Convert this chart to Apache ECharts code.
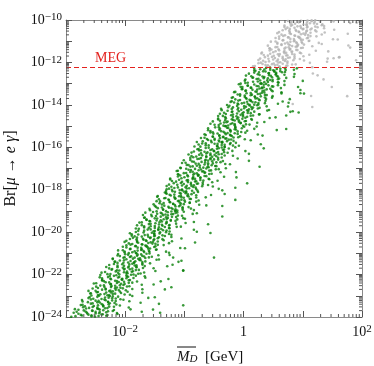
<!DOCTYPE html>
<html>
<head>
<meta charset="utf-8">
<script src="https://cdn.jsdelivr.net/npm/echarts@6/dist/echarts.min.js"></script>
</head>
<body style="margin:0">
<div id="chart" style="width:374px;height:366px"></div>
<script>
// points, stored as [log10(M_D / GeV), log10(Br)]
var greenPts = [
[-2.91,-23.99],[-2.57,-23.97],[-2.45,-23.95],[-2.73,-23.93],[-2.30,-23.91],[-2.62,-23.89],[-2.38,-23.87],[-2.79,-23.85],[-2.50,-23.83],[-2.14,-23.81],[-2.65,-23.79],[-2.43,-23.77],[-2.82,-23.75],[-2.29,-23.73],[-2.55,-23.71],[-2.70,-23.69],[-2.19,-23.67],[-2.43,-23.65],[-2.85,-23.63],[-2.47,-23.61],[-2.34,-23.59],[-2.61,-23.57],[-1.94,-23.55],[-2.55,-23.53],[-2.27,-23.51],[-2.68,-23.49],[-2.37,-23.47],[-2.46,-23.45],[-2.72,-23.43],[-2.15,-23.41],[-2.40,-23.39],[-2.58,-23.37],[-2.26,-23.35],[-1.74,-23.33],[-2.47,-23.31],[-2.29,-23.29],[-2.72,-23.27],[-2.16,-23.25],[-2.50,-23.23],[-2.33,-23.21],[-2.03,-23.19],[-2.58,-23.17],[-2.40,-23.15],[-2.16,-23.13],[-2.62,-23.11],[-2.28,-23.09],[-1.50,-23.07],[-2.47,-23.05],[-2.21,-23.03],[-1.88,-23.01],
[-2.57,-22.99],[-2.27,-22.97],[-1.92,-22.95],[-2.42,-22.93],[-2.21,-22.91],[-2.59,-22.89],[-2.07,-22.87],[-2.32,-22.85],[-2.48,-22.83],[-1.96,-22.81],[-2.21,-22.79],[-2.62,-22.77],[-2.25,-22.75],[-2.11,-22.73],[-2.39,-22.71],[-1.71,-22.69],[-2.33,-22.67],[-2.04,-22.65],[-2.46,-22.63],[-2.14,-22.61],[-2.24,-22.59],[-2.49,-22.57],[-1.93,-22.55],[-2.17,-22.53],[-2.36,-22.51],[-2.03,-22.49],[-1.52,-22.47],[-2.24,-22.45],[-2.07,-22.43],[-2.49,-22.41],[-1.94,-22.39],[-2.27,-22.37],[-2.11,-22.35],[-1.80,-22.33],[-2.36,-22.31],[-2.17,-22.29],[-1.94,-22.27],[-2.39,-22.25],[-2.06,-22.23],[-1.27,-22.21],[-2.25,-22.19],[-1.98,-22.17],[-1.66,-22.15],[-2.43,-22.13],[-2.10,-22.11],[-1.97,-22.09],[-2.26,-22.07],[-1.82,-22.05],[-2.15,-22.03],[-1.90,-22.01],
[-2.10,-21.99],[-2.25,-21.97],[-1.74,-21.95],[-1.98,-21.93],[-2.40,-21.91],[-2.02,-21.89],[-1.89,-21.87],[-2.16,-21.85],[-1.49,-21.83],[-2.10,-21.81],[-1.82,-21.79],[-2.23,-21.77],[-1.92,-21.75],[-2.01,-21.73],[-2.27,-21.71],[-1.70,-21.69],[-1.95,-21.67],[-2.13,-21.65],[-1.81,-21.63],[-1.29,-21.61],[-2.02,-21.59],[-1.84,-21.57],[-2.27,-21.55],[-1.71,-21.53],[-2.05,-21.51],[-1.88,-21.49],[-1.58,-21.47],[-2.13,-21.45],[-1.95,-21.43],[-1.71,-21.41],[-2.17,-21.39],[-1.83,-21.37],[-1.05,-21.35],[-2.02,-21.33],[-1.76,-21.31],[-1.43,-21.29],[-2.21,-21.27],[-1.87,-21.25],[-1.75,-21.23],[-2.03,-21.21],[-1.60,-21.19],[-1.92,-21.17],[-1.68,-21.15],[-2.09,-21.13],[-1.80,-21.11],[-1.44,-21.09],[-1.95,-21.07],[-1.73,-21.05],[-2.12,-21.03],[-1.59,-21.01],
[-1.94,-20.99],[-1.26,-20.97],[-1.88,-20.95],[-1.59,-20.93],[-2.01,-20.91],[-1.69,-20.89],[-1.79,-20.87],[-2.04,-20.85],[-1.48,-20.83],[-1.72,-20.81],[-1.91,-20.79],[-1.58,-20.77],[-1.07,-20.75],[-1.79,-20.73],[-1.62,-20.71],[-2.04,-20.69],[-1.49,-20.67],[-1.82,-20.65],[-1.66,-20.63],[-1.35,-20.61],[-1.91,-20.59],[-1.72,-20.57],[-1.49,-20.55],[-1.94,-20.53],[-1.61,-20.51],[-0.82,-20.49],[-1.80,-20.47],[-1.53,-20.45],[-1.21,-20.43],[-1.98,-20.41],[-1.65,-20.39],[-1.52,-20.37],[-1.81,-20.35],[-1.37,-20.33],[-1.70,-20.31],[-1.45,-20.29],[-1.87,-20.27],[-1.57,-20.25],[-1.22,-20.23],[-1.72,-20.21],[-1.51,-20.19],[-1.89,-20.17],[-1.37,-20.15],[-1.62,-20.13],[-1.78,-20.11],[-1.26,-20.09],[-1.51,-20.07],[-1.92,-20.05],[-1.55,-20.03],[-1.41,-20.01],
[-1.82,-19.99],[-1.25,-19.97],[-1.50,-19.95],[-1.68,-19.93],[-1.36,-19.91],[-0.84,-19.89],[-1.57,-19.87],[-1.39,-19.85],[-1.82,-19.83],[-1.26,-19.81],[-1.60,-19.79],[-1.43,-19.77],[-1.13,-19.75],[-1.68,-19.73],[-1.50,-19.71],[-1.26,-19.69],[-1.72,-19.67],[-1.38,-19.65],[-0.60,-19.63],[-1.57,-19.61],[-1.31,-19.59],[-0.98,-19.57],[-1.76,-19.55],[-1.42,-19.53],[-1.30,-19.51],[-1.58,-19.49],[-1.15,-19.47],[-1.47,-19.45],[-1.23,-19.43],[-1.64,-19.41],[-1.35,-19.39],[-0.99,-19.37],[-1.50,-19.35],[-1.28,-19.33],[-1.67,-19.31],[-1.14,-19.29],[-1.40,-19.27],[-1.55,-19.25],[-1.04,-19.23],[-1.28,-19.21],[-1.70,-19.19],[-1.32,-19.17],[-1.19,-19.15],[-1.46,-19.13],[-0.79,-19.11],[-1.40,-19.09],[-1.12,-19.07],[-1.53,-19.05],[-1.22,-19.03],[-1.31,-19.01],
[-1.16,-18.99],[-1.58,-18.97],[-1.03,-18.95],[-1.36,-18.93],[-1.20,-18.91],[-0.89,-18.89],[-1.45,-18.87],[-1.26,-18.85],[-1.03,-18.83],[-1.48,-18.81],[-1.15,-18.79],[-0.36,-18.77],[-1.34,-18.75],[-1.07,-18.73],[-0.75,-18.71],[-1.52,-18.69],[-1.19,-18.67],[-1.06,-18.65],[-1.35,-18.63],[-0.91,-18.61],[-1.24,-18.59],[-0.99,-18.57],[-1.41,-18.55],[-1.11,-18.53],[-0.76,-18.51],[-1.26,-18.49],[-1.05,-18.47],[-1.43,-18.45],[-0.91,-18.43],[-1.16,-18.41],[-1.32,-18.39],[-0.80,-18.37],[-1.05,-18.35],[-1.46,-18.33],[-1.09,-18.31],[-0.95,-18.29],[-1.23,-18.27],[-0.55,-18.25],[-1.17,-18.23],[-0.88,-18.21],[-1.30,-18.19],[-0.98,-18.17],[-1.08,-18.15],[-1.33,-18.13],[-0.77,-18.11],[-1.01,-18.09],[-1.20,-18.07],[-0.87,-18.05],[-0.36,-18.03],[-1.08,-18.01],
[-1.04,-17.99],[-0.80,-17.97],[-1.26,-17.95],[-0.92,-17.93],[-0.14,-17.91],[-1.11,-17.89],[-0.85,-17.87],[-0.52,-17.85],[-1.30,-17.83],[-0.96,-17.81],[-0.84,-17.79],[-1.12,-17.77],[-0.69,-17.75],[-1.01,-17.73],[-0.77,-17.71],[-1.18,-17.69],[-0.89,-17.67],[-0.53,-17.65],[-1.04,-17.63],[-0.82,-17.61],[-1.21,-17.59],[-0.68,-17.57],[-0.94,-17.55],[-1.09,-17.53],[-0.58,-17.51],[-0.82,-17.49],[-1.24,-17.47],[-0.86,-17.45],[-0.73,-17.43],[-1.00,-17.41],[-0.33,-17.39],[-0.94,-17.37],[-0.66,-17.35],[-1.07,-17.33],[-0.76,-17.31],[-0.85,-17.29],[-1.11,-17.27],[-0.54,-17.25],[-0.79,-17.23],[-0.97,-17.21],[-0.65,-17.19],[-0.13,-17.17],[-0.86,-17.15],[-0.68,-17.13],[-1.11,-17.11],[-0.55,-17.09],[-0.89,-17.07],[-0.72,-17.05],[-0.42,-17.03],[-0.97,-17.01],
[-0.30,-16.99],[-1.07,-16.97],[-0.74,-16.95],[-0.61,-16.93],[-0.90,-16.91],[-0.46,-16.89],[-0.79,-16.87],[-0.54,-16.85],[-0.96,-16.83],[-0.66,-16.81],[-0.31,-16.79],[-0.81,-16.77],[-0.60,-16.75],[-0.98,-16.73],[-0.46,-16.71],[-0.71,-16.69],[-0.87,-16.67],[-0.35,-16.65],[-0.60,-16.63],[-1.01,-16.61],[-0.64,-16.59],[-0.50,-16.57],[-0.78,-16.55],[-0.10,-16.53],[-0.72,-16.51],[-0.43,-16.49],[-0.85,-16.47],[-0.53,-16.45],[-0.63,-16.43],[-0.88,-16.41],[-0.32,-16.39],[-0.56,-16.37],[-0.75,-16.35],[-0.42,-16.33],[0.09,-16.31],[-0.63,-16.29],[-0.46,-16.27],[-0.88,-16.25],[-0.33,-16.23],[-0.66,-16.21],[-0.50,-16.19],[-0.19,-16.17],[-0.75,-16.15],[-0.56,-16.13],[-0.33,-16.11],[-0.78,-16.09],[-0.45,-16.07],[0.34,-16.05],[-0.64,-16.03],[-0.37,-16.01],
[-0.32,-15.99],[-0.73,-15.97],[-0.44,-15.95],[-0.08,-15.93],[-0.59,-15.91],[-0.37,-15.89],[-0.76,-15.87],[-0.23,-15.85],[-0.49,-15.83],[-0.64,-15.81],[-0.13,-15.79],[-0.37,-15.77],[-0.79,-15.75],[-0.41,-15.73],[-0.28,-15.71],[-0.55,-15.69],[0.12,-15.67],[-0.49,-15.65],[-0.21,-15.63],[-0.62,-15.61],[-0.31,-15.59],[-0.40,-15.57],[-0.66,-15.55],[-0.09,-15.53],[-0.34,-15.51],[-0.52,-15.49],[-0.20,-15.47],[0.32,-15.45],[-0.41,-15.43],[-0.23,-15.41],[-0.66,-15.39],[-0.10,-15.37],[-0.44,-15.35],[-0.27,-15.33],[0.03,-15.31],[-0.52,-15.29],[-0.34,-15.27],[-0.10,-15.25],[-0.56,-15.23],[-0.22,-15.21],[0.56,-15.19],[-0.41,-15.17],[-0.15,-15.15],[0.18,-15.13],[-0.60,-15.11],[-0.26,-15.09],[-0.14,-15.07],[-0.42,-15.05],[0.01,-15.03],[-0.31,-15.01],
[-0.01,-14.99],[-0.26,-14.97],[-0.42,-14.95],[0.10,-14.93],[-0.15,-14.91],[-0.56,-14.89],[-0.19,-14.87],[-0.05,-14.85],[-0.33,-14.83],[0.35,-14.81],[-0.27,-14.79],[0.02,-14.77],[-0.40,-14.75],[-0.08,-14.73],[-0.18,-14.71],[-0.43,-14.69],[0.13,-14.67],[-0.11,-14.65],[-0.30,-14.63],[0.03,-14.61],[0.54,-14.59],[-0.18,-14.57],[-0.01,-14.55],[-0.43,-14.53],[0.12,-14.51],[-0.21,-14.49],[-0.05,-14.47],[0.26,-14.45],[-0.30,-14.43],[-0.11,-14.41],[0.12,-14.39],[-0.33,-14.37],[0.00,-14.35],[0.79,-14.33],[-0.19,-14.31],[0.08,-14.29],[0.40,-14.27],[-0.37,-14.25],[-0.04,-14.23],[0.09,-14.21],[-0.20,-14.19],[0.24,-14.17],[-0.09,-14.15],[0.16,-14.13],[-0.26,-14.11],[0.04,-14.09],[0.39,-14.07],[-0.11,-14.05],[0.10,-14.03],[-0.28,-14.01],
[0.18,-13.99],[-0.09,-13.97],[0.58,-13.95],[-0.03,-13.93],[0.25,-13.91],[-0.16,-13.89],[0.15,-13.87],[0.06,-13.85],[-0.20,-13.83],[0.37,-13.81],[0.12,-13.79],[-0.06,-13.77],[0.26,-13.75],[0.78,-13.73],[0.05,-13.71],[0.23,-13.69],[-0.20,-13.67],[0.36,-13.65],[0.02,-13.63],[0.19,-13.61],[0.49,-13.59],[-0.06,-13.57],[0.12,-13.55],[0.36,-13.53],[-0.10,-13.51],[0.24,-13.49],[1.02,-13.47],[0.05,-13.45],[0.31,-13.43],[0.64,-13.41],[-0.14,-13.39],[0.20,-13.37],[0.32,-13.35],[0.04,-13.33],[0.47,-13.31],[0.15,-13.29],[0.39,-13.27],[-0.02,-13.25],[0.27,-13.23],[0.63,-13.21],[0.12,-13.19],[0.34,-13.17],[-0.05,-13.15],[0.48,-13.13],[0.22,-13.11],[0.07,-13.09],[0.58,-13.07],[0.34,-13.05],[-0.08,-13.03],[0.30,-13.01],
[0.28,-12.99],[0.03,-12.97],[0.59,-12.95],[0.35,-12.93],[0.16,-12.91],[0.49,-12.89],[1.00,-12.87],[0.28,-12.85],[0.45,-12.83],[0.03,-12.81],[0.58,-12.79],[0.25,-12.77],[0.41,-12.75],[0.72,-12.73],[0.16,-12.71],[0.35,-12.69],[0.58,-12.67],[0.13,-12.65],[0.46,-12.63],[0.27,-12.59],[0.54,-12.57],[0.86,-12.55],[0.09,-12.53],[0.42,-12.51],[0.55,-12.49],[0.26,-12.47],[0.70,-12.45],[0.37,-12.43],[0.62,-12.41],[0.20,-12.39],[0.50,-12.37],[0.85,-12.35],[0.35,-12.33],[0.56,-12.31],[0.18,-12.29],[0.70,-12.27],[0.45,-12.25],
[-0.50,-21.2],[-1.02,-21.8],[-1.33,-22.7],[-1.02,-23.45],[-1.10,-21.4],[-1.19,-21.2],[-1.41,-23.8],[-1.72,-23.75],[-1.53,-23.65],[0.92,-13.16],[0.96,-13.45],[0.83,-14.3],[0.76,-13.9],[0.72,-14.5],
[-2.51,-23.98],[-2.84,-23.96],[-2.32,-23.94],[-2.57,-23.92],[-2.75,-23.90],[-2.40,-23.88],[-2.13,-23.86],[-2.64,-23.84],[-2.44,-23.82],[-2.87,-23.80],[-2.32,-23.78],[-2.50,-23.76],[-2.67,-23.74],[-2.21,-23.72],[-2.56,-23.70],[-2.37,-23.68],[-2.79,-23.66],[-1.91,-23.64],[-2.45,-23.62],[-2.66,-23.60],[-2.30,-23.58],[-2.47,-23.56],[-2.71,-23.54],[-2.19,-23.52],[-2.37,-23.50],[-2.53,-23.48],[-2.09,-23.46],[-2.75,-23.44],[-2.38,-23.42],[-2.28,-23.40],[-1.43,-23.38],[-2.55,-23.36],[-2.18,-23.34],[-2.43,-23.32],[-2.63,-23.30],[-2.29,-23.28],[-1.93,-23.26],[-2.45,-23.24],[-2.22,-23.22],[-2.73,-23.20],[-2.35,-23.18],[-2.08,-23.16],[-2.54,-23.14],[-2.22,-23.12],[-1.61,-23.10],[-2.34,-23.08],[-2.60,-23.06],[-2.12,-23.04],[-2.26,-23.02],[-2.44,-23.00],
[-2.30,-22.98],[-2.46,-22.96],[-2.01,-22.94],[-2.35,-22.92],[-2.17,-22.90],[-2.58,-22.88],[-1.71,-22.86],[-2.24,-22.84],[-2.46,-22.82],[-2.09,-22.80],[-2.27,-22.78],[-2.50,-22.76],[-1.99,-22.74],[-2.16,-22.72],[-2.33,-22.70],[-1.88,-22.68],[-2.55,-22.66],[-2.17,-22.64],[-2.08,-22.62],[-1.22,-22.60],[-2.35,-22.58],[-1.97,-22.56],[-2.23,-22.54],[-2.42,-22.52],[-2.09,-22.50],[-1.72,-22.48],[-2.25,-22.46],[-2.01,-22.44],[-2.53,-22.42],[-2.14,-22.40],[-1.88,-22.38],[-2.33,-22.36],[-2.02,-22.34],[-1.40,-22.32],[-2.14,-22.30],[-2.39,-22.28],[-1.92,-22.26],[-2.05,-22.24],[-2.24,-22.22],[-2.05,-22.20],[-2.39,-22.18],[-1.86,-22.16],[-2.12,-22.14],[-2.29,-22.12],[-1.95,-22.10],[-1.67,-22.08],[-2.19,-22.06],[-1.98,-22.04],[-2.42,-22.02],[-1.86,-22.00],
[-2.30,-21.98],[-1.78,-21.96],[-1.96,-21.94],[-2.12,-21.92],[-1.68,-21.90],[-2.34,-21.88],[-1.97,-21.86],[-1.87,-21.84],[-1.02,-21.82],[-2.14,-21.80],[-1.77,-21.78],[-2.02,-21.76],[-2.22,-21.74],[-1.88,-21.72],[-1.52,-21.70],[-2.04,-21.68],[-1.81,-21.66],[-2.32,-21.64],[-1.94,-21.62],[-1.67,-21.60],[-2.13,-21.58],[-1.81,-21.56],[-1.20,-21.54],[-1.93,-21.52],[-2.19,-21.50],[-1.71,-21.48],[-1.85,-21.46],[-2.03,-21.44],[-1.85,-21.42],[-2.18,-21.40],[-1.66,-21.38],[-1.91,-21.36],[-2.09,-21.34],[-1.74,-21.32],[-1.47,-21.30],[-1.98,-21.28],[-1.78,-21.26],[-2.21,-21.24],[-1.66,-21.22],[-1.84,-21.20],[-2.01,-21.18],[-1.55,-21.16],[-1.90,-21.14],[-1.71,-21.12],[-2.13,-21.10],[-1.25,-21.08],[-1.79,-21.06],[-2.00,-21.04],[-1.64,-21.02],[-1.81,-21.00],
[-1.82,-20.98],[-2.01,-20.96],[-1.68,-20.94],[-1.31,-20.92],[-1.84,-20.90],[-1.60,-20.88],[-2.12,-20.86],[-1.73,-20.84],[-1.47,-20.82],[-1.92,-20.80],[-1.61,-20.78],[-0.99,-20.76],[-1.73,-20.74],[-1.98,-20.72],[-1.51,-20.70],[-1.64,-20.68],[-1.83,-20.66],[-1.64,-20.64],[-1.98,-20.62],[-1.45,-20.60],[-1.71,-20.58],[-1.88,-20.56],[-1.54,-20.54],[-1.26,-20.52],[-1.78,-20.50],[-1.57,-20.48],[-2.01,-20.46],[-1.45,-20.44],[-1.64,-20.42],[-1.80,-20.40],[-1.35,-20.38],[-1.69,-20.36],[-1.51,-20.34],[-1.92,-20.32],[-1.05,-20.30],[-1.58,-20.28],[-1.80,-20.26],[-1.43,-20.24],[-1.61,-20.22],[-1.84,-20.20],[-1.33,-20.18],[-1.50,-20.16],[-1.67,-20.14],[-1.22,-20.12],[-1.89,-20.10],[-1.51,-20.08],[-1.42,-20.06],[-0.56,-20.04],[-1.69,-20.02],[-1.31,-20.00],
[-0.79,-19.98],[-1.52,-19.96],[-1.78,-19.94],[-1.30,-19.92],[-1.44,-19.90],[-1.62,-19.88],[-1.44,-19.86],[-1.77,-19.84],[-1.25,-19.82],[-1.50,-19.80],[-1.68,-19.78],[-1.33,-19.76],[-1.06,-19.74],[-1.57,-19.72],[-1.37,-19.70],[-1.80,-19.68],[-1.25,-19.66],[-1.43,-19.64],[-1.60,-19.62],[-1.14,-19.60],[-1.49,-19.58],[-1.30,-19.56],[-1.72,-19.54],[-0.84,-19.52],[-1.38,-19.50],[-1.59,-19.48],[-1.23,-19.46],[-1.40,-19.44],[-1.64,-19.42],[-1.12,-19.40],[-1.30,-19.38],[-1.46,-19.36],[-1.02,-19.34],[-1.68,-19.32],[-1.31,-19.30],[-1.21,-19.28],[-0.36,-19.26],[-1.48,-19.24],[-1.11,-19.22],[-1.36,-19.20],[-1.56,-19.18],[-1.22,-19.16],[-0.86,-19.14],[-1.38,-19.12],[-1.15,-19.10],[-1.66,-19.08],[-1.28,-19.06],[-1.01,-19.04],[-1.47,-19.02],[-1.15,-19.00],
[-1.12,-18.98],[-0.84,-18.96],[-1.36,-18.94],[-1.15,-18.92],[-1.59,-18.90],[-1.03,-18.88],[-1.22,-18.86],[-1.38,-18.84],[-0.93,-18.82],[-1.27,-18.80],[-1.09,-18.78],[-1.50,-18.76],[-0.63,-18.74],[-1.16,-18.72],[-1.38,-18.70],[-1.01,-18.68],[-1.19,-18.66],[-1.42,-18.64],[-0.91,-18.62],[-1.08,-18.60],[-1.25,-18.58],[-0.80,-18.56],[-1.47,-18.54],[-1.09,-18.52],[-1.00,-18.50],[-0.14,-18.48],[-1.27,-18.46],[-0.89,-18.44],[-1.15,-18.42],[-1.34,-18.40],[-1.01,-18.38],[-0.64,-18.36],[-1.17,-18.34],[-0.93,-18.32],[-1.45,-18.30],[-1.06,-18.28],[-0.80,-18.26],[-1.25,-18.24],[-0.94,-18.22],[-0.32,-18.20],[-1.06,-18.18],[-1.31,-18.16],[-0.84,-18.14],[-0.97,-18.12],[-1.16,-18.10],[-0.97,-18.08],[-1.31,-18.06],[-0.78,-18.04],[-1.04,-18.02],[-1.21,-18.00],
[-1.30,-17.98],[-0.42,-17.96],[-0.96,-17.94],[-1.17,-17.92],[-0.81,-17.90],[-0.98,-17.88],[-1.22,-17.86],[-0.70,-17.84],[-0.88,-17.82],[-1.04,-17.80],[-0.60,-17.78],[-1.26,-17.76],[-0.89,-17.74],[-0.79,-17.72],[0.06,-17.70],[-1.06,-17.68],[-0.69,-17.66],[-0.94,-17.64],[-1.14,-17.62],[-0.80,-17.60],[-0.44,-17.58],[-0.96,-17.56],[-0.73,-17.54],[-1.24,-17.52],[-0.86,-17.50],[-0.59,-17.48],[-1.05,-17.46],[-0.73,-17.44],[-0.12,-17.42],[-0.85,-17.40],[-1.11,-17.38],[-0.63,-17.36],[-0.77,-17.34],[-0.95,-17.32],[-0.77,-17.30],[-1.10,-17.28],[-0.58,-17.26],[-0.83,-17.24],[-1.01,-17.22],[-0.66,-17.20],[-0.39,-17.18],[-0.90,-17.16],[-0.70,-17.14],[-1.13,-17.12],[-0.58,-17.10],[-0.76,-17.08],[-0.93,-17.06],[-0.47,-17.04],[-0.82,-17.02],[-0.63,-17.00],
[-1.06,-16.98],[-0.68,-16.96],[-0.59,-16.94],[0.27,-16.92],[-0.86,-16.90],[-0.48,-16.88],[-0.74,-16.86],[-0.93,-16.84],[-0.60,-16.82],[-0.23,-16.80],[-0.76,-16.78],[-0.52,-16.76],[-1.04,-16.74],[-0.65,-16.72],[-0.39,-16.70],[-0.84,-16.68],[-0.53,-16.66],[0.09,-16.64],[-0.65,-16.62],[-0.90,-16.60],[-0.43,-16.58],[-0.56,-16.56],[-0.75,-16.54],[-0.56,-16.52],[-0.90,-16.50],[-0.37,-16.48],[-0.63,-16.46],[-0.80,-16.44],[-0.46,-16.42],[-0.18,-16.40],[-0.70,-16.38],[-0.49,-16.36],[-0.93,-16.34],[-0.37,-16.32],[-0.56,-16.30],[-0.72,-16.28],[-0.27,-16.26],[-0.61,-16.24],[-0.43,-16.22],[-0.84,-16.20],[0.03,-16.18],[-0.50,-16.16],[-0.72,-16.14],[-0.35,-16.12],[-0.53,-16.10],[-0.76,-16.08],[-0.25,-16.06],[-0.42,-16.04],[-0.59,-16.02],[-0.14,-16.00],
[-0.32,-15.98],[-0.83,-15.96],[-0.45,-15.94],[-0.18,-15.92],[-0.64,-15.90],[-0.32,-15.88],[0.29,-15.86],[-0.44,-15.84],[-0.70,-15.82],[-0.22,-15.80],[-0.36,-15.78],[-0.54,-15.76],[-0.36,-15.74],[-0.69,-15.72],[-0.17,-15.70],[-0.42,-15.68],[-0.60,-15.66],[-0.25,-15.64],[0.02,-15.62],[-0.49,-15.60],[-0.29,-15.58],[-0.72,-15.56],[-0.17,-15.54],[-0.35,-15.52],[-0.52,-15.50],[-0.06,-15.48],[-0.41,-15.46],[-0.22,-15.44],[-0.64,-15.42],[0.24,-15.40],[-0.30,-15.38],[-0.51,-15.36],[-0.15,-15.34],[-0.32,-15.32],[-0.56,-15.30],[-0.04,-15.28],[-0.22,-15.26],[-0.38,-15.24],[0.06,-15.22],[-0.60,-15.20],[-0.23,-15.18],[-0.13,-15.16],[0.72,-15.14],[-0.40,-15.12],[-0.03,-15.10],[-0.28,-15.08],[-0.48,-15.06],[-0.14,-15.04],[0.22,-15.02],[-0.30,-15.00],
[-0.34,-14.98],[-0.15,-14.96],[-0.49,-14.94],[0.04,-14.92],[-0.22,-14.90],[-0.39,-14.88],[-0.05,-14.86],[0.23,-14.84],[-0.29,-14.82],[-0.08,-14.80],[-0.52,-14.78],[0.04,-14.76],[-0.15,-14.74],[-0.31,-14.72],[0.14,-14.70],[-0.20,-14.68],[-0.02,-14.66],[-0.43,-14.64],[0.44,-14.62],[-0.09,-14.60],[-0.31,-14.58],[0.06,-14.56],[-0.12,-14.54],[-0.35,-14.52],[0.16,-14.50],[-0.01,-14.48],[-0.18,-14.46],[0.27,-14.44],[-0.40,-14.42],[-0.02,-14.40],[0.07,-14.38],[0.93,-14.36],[-0.20,-14.34],[0.18,-14.32],[-0.08,-14.30],[-0.27,-14.28],[0.06,-14.26],[0.43,-14.24],[-0.10,-14.22],[0.14,-14.20],[-0.38,-14.18],[0.01,-14.16],[0.27,-14.14],[-0.18,-14.12],[0.13,-14.10],[0.75,-14.08],[0.01,-14.06],[-0.24,-14.04],[0.23,-14.02],[0.10,-14.00],
[0.25,-13.98],[0.07,-13.96],[-0.10,-13.94],[0.36,-13.92],[0.01,-13.90],[0.20,-13.88],[-0.22,-13.86],[0.66,-13.84],[0.12,-13.82],[-0.09,-13.80],[0.27,-13.78],[0.10,-13.76],[-0.14,-13.74],[0.38,-13.72],[0.20,-13.70],[0.04,-13.68],[0.48,-13.66],[-0.18,-13.64],[0.19,-13.62],[0.29,-13.60],[0.02,-13.56],[0.39,-13.54],[0.14,-13.52],[-0.06,-13.50],[0.28,-13.48],[0.64,-13.46],[0.12,-13.44],[0.35,-13.42],[-0.16,-13.40],[0.22,-13.38],[0.49,-13.36],[0.03,-13.34],[0.35,-13.32],[0.96,-13.30],[0.23,-13.28],[-0.03,-13.26],[0.45,-13.24],[0.31,-13.22],[0.13,-13.20],[0.31,-13.18],[-0.02,-13.16],[0.50,-13.14],[0.25,-13.12],[0.07,-13.10],[0.42,-13.08],[0.69,-13.06],[0.18,-13.04],[0.38,-13.02],[-0.05,-13.00],
[0.30,-12.98],[0.07,-12.96],[0.58,-12.94],[0.41,-12.92],[0.24,-12.90],[0.69,-12.88],[0.02,-12.86],[0.40,-12.84],[0.49,-12.82],[0.22,-12.78],[0.60,-12.76],[0.34,-12.74],[0.15,-12.72],[0.48,-12.70],[0.85,-12.68],[0.32,-12.66],[0.56,-12.64],[0.04,-12.62],[0.43,-12.60],[0.69,-12.58],[0.24,-12.56],[0.55,-12.54],[0.43,-12.50],[0.18,-12.48],[0.65,-12.46],[0.52,-12.44],[0.33,-12.42],[0.52,-12.40],[0.18,-12.38],[0.71,-12.36],[0.45,-12.34],[0.28,-12.32],[0.62,-12.30],[0.90,-12.28],[0.38,-12.26]
];
var grayPts = [
[1.16,-12.23],[0.44,-12.21],[0.61,-12.19],[0.19,-12.17],[0.74,-12.15],[0.41,-12.13],[0.57,-12.11],[0.88,-12.09],[0.32,-12.07],[0.51,-12.05],[0.74,-12.03],[0.29,-12.01],[0.62,-11.99],[1.41,-11.97],[0.43,-11.95],[0.70,-11.93],[1.02,-11.91],[0.25,-11.89],[0.58,-11.87],[0.71,-11.85],[0.42,-11.83],[0.86,-11.81],[0.53,-11.79],[0.78,-11.77],[0.36,-11.75],[0.66,-11.73],[1.01,-11.71],[0.51,-11.69],[0.72,-11.67],[0.34,-11.65],[0.86,-11.63],[0.61,-11.61],[0.45,-11.59],[0.97,-11.57],[0.72,-11.55],[0.31,-11.53],[0.68,-11.51],[0.82,-11.49],[0.54,-11.47],[1.22,-11.45],[0.60,-11.43],[0.89,-11.41],[0.47,-11.39],[0.79,-11.37],[0.69,-11.35],[0.44,-11.33],[1.00,-11.31],[0.76,-11.29],[0.57,-11.27],[0.90,-11.25],
[0.82,-11.23],[0.41,-11.21],[0.78,-11.19],[0.92,-11.17],[0.64,-11.15],[1.32,-11.13],[0.70,-11.11],[0.99,-11.09],[0.57,-11.07],[0.89,-11.05],[0.79,-11.03],[0.54,-11.01],[1.10,-10.99],[0.86,-10.97],[0.67,-10.95],[1.00,-10.93],[1.51,-10.91],[0.79,-10.89],[0.96,-10.87],[0.54,-10.85],[1.09,-10.83],[0.76,-10.81],[0.92,-10.79],[1.23,-10.77],[0.67,-10.75],[0.86,-10.73],[1.09,-10.71],[0.64,-10.69],[0.97,-10.67],[1.76,-10.65],[0.78,-10.63],[1.05,-10.61],[1.37,-10.59],[0.60,-10.57],[0.93,-10.55],[1.06,-10.53],[0.77,-10.51],[1.21,-10.49],[0.88,-10.47],[1.13,-10.45],[0.71,-10.43],[1.01,-10.41],[1.36,-10.39],[0.86,-10.37],[1.07,-10.35],[0.69,-10.33],[1.21,-10.31],[0.96,-10.29],[0.80,-10.27],[1.32,-10.25],
[0.82,-10.23],[1.01,-10.21],[1.24,-10.19],[0.79,-10.17],[1.12,-10.15],[1.91,-10.13],[0.93,-10.11],[1.20,-10.09],[1.52,-10.07],[0.75,-10.05],[1.08,-10.03],[1.21,-10.01],
[0.39,-12.22],[0.60,-12.20],[0.16,-12.18],[0.72,-12.16],[0.53,-12.14],[0.37,-12.12],[0.82,-12.10],[0.48,-12.08],[0.66,-12.06],[0.25,-12.04],[1.12,-12.02],[0.59,-12.00],[0.37,-11.98],[0.74,-11.96],[0.56,-11.94],[0.33,-11.92],[0.84,-11.90],[0.67,-11.88],[0.50,-11.86],[0.95,-11.84],[0.28,-11.82],[0.66,-11.80],[0.75,-11.78],[1.61,-11.76],[0.48,-11.74],[0.86,-11.72],[0.60,-11.70],[0.41,-11.68],[0.74,-11.66],[1.11,-11.64],[0.58,-11.62],[0.82,-11.60],[0.30,-11.58],[0.69,-11.56],[0.95,-11.54],[0.50,-11.52],[0.81,-11.50],[1.43,-11.48],[0.69,-11.46],[0.44,-11.44],[0.91,-11.42],[0.78,-11.40],[0.59,-11.38],[0.78,-11.36],[0.44,-11.34],[0.97,-11.32],[0.71,-11.30],[0.54,-11.28],[0.88,-11.26],[1.16,-11.24],
[0.91,-11.22],[1.77,-11.20],[0.64,-11.18],[1.02,-11.16],[0.76,-11.14],[0.57,-11.12],[0.90,-11.10],[1.27,-11.08],[0.74,-11.06],[0.98,-11.04],[0.46,-11.02],[0.85,-11.00],[1.11,-10.98],[0.66,-10.96],[0.97,-10.94],[1.59,-10.92],[0.85,-10.90],[0.60,-10.88],[1.07,-10.86],[0.94,-10.84],[0.75,-10.82],[0.94,-10.80],[0.60,-10.78],[1.13,-10.76],[0.87,-10.74],[0.70,-10.72],[1.04,-10.70],[1.32,-10.68],[0.80,-10.66],[1.01,-10.64],[0.57,-10.62],[1.13,-10.60],[0.94,-10.58],[0.78,-10.56],[1.23,-10.54],[0.89,-10.52],[1.07,-10.50],[0.66,-10.48],[1.53,-10.46],[1.00,-10.44],[0.78,-10.42],[1.15,-10.40],[0.97,-10.38],[0.74,-10.36],[1.25,-10.34],[1.08,-10.32],[0.91,-10.30],[1.36,-10.28],[0.69,-10.26],[1.07,-10.24],
[1.06,-10.22],[1.33,-10.20],[0.87,-10.18],[1.19,-10.16],[1.80,-10.14],[1.07,-10.12],[0.81,-10.10],[1.29,-10.08],[1.15,-10.06],[0.97,-10.04],[1.15,-10.02],
[1.25,-12.61],[1.49,-13.16],[1.75,-13.59],[1.16,-14.1],[0.83,-13.96],[1.80,-11.3],[1.62,-11.75],[1.52,-11.8],[1.42,-11.82],[1.90,-11.9],
[1.14,-13.58],[1.35,-12.80],[1.17,-12.52]
];
var megLimit = -12.24;          // log10(5.7e-13)
var xRange = [-3, 2];
var yRange = [-24, -10];
var xLabelExp = [-2, 0, 2];
var yLabelExp = [-24, -22, -20, -18, -16, -14, -12, -10];
var minorFactors = [2, 3, 4, 5, 6, 7, 8, 9];

var FONT = 'Liberation Serif';
var INK = '#111';

function powLabel(e) {
    if (e === 0) return '{b|1}';
    return '{b|10}{s|' + (e < 0 ? '\u2212' : '') + Math.abs(e) + '}';
}

var labelRich = {
    b: {fontSize: 14, fontFamily: FONT, color: INK, lineHeight: 16},
    s: {fontSize: 11, fontFamily: FONT, color: INK, lineHeight: 9, verticalAlign: 'top'}
};

function minorList(range) {
    var out = [];
    for (var n = range[0]; n < range[1]; n++) {
        minorFactors.forEach(function (f) { out.push(n + Math.log10(f)); });
    }
    return out;
}

var tickColor = '#555';
var frameColor = '#8a8a8a';

function baseAxis(range, pos, labels) {
    return {
        type: 'value', min: range[0], max: range[1], interval: 1, position: pos,
        axisLine: {show: true, onZero: false, lineStyle: {color: frameColor, width: 1}},
        axisTick: {show: true, inside: true, length: 6, lineStyle: {color: tickColor}},
        splitLine: {show: false},
        axisLabel: labels ? {
            show: true,
            formatter: function (v) { return labels.indexOf(v) >= 0 ? powLabel(v) : ''; },
            rich: labelRich
        } : {show: false}
    };
}

var xBottom = baseAxis(xRange, 'bottom', xLabelExp);
xBottom.axisLabel.margin = 7;
var xTop = baseAxis(xRange, 'top', null);
var yLeft = baseAxis(yRange, 'left', yLabelExp);
yLeft.axisLabel.margin = 4;
yLeft.name = '{n|Br[}{i|\u03bc}{n| \u2192 }{i|e}{n| }{i|\u03b3}{n|]}';
yLeft.nameLocation = 'middle';
yLeft.nameRotate = 90;
yLeft.nameGap = 47;
yLeft.nameTextStyle = {
    fontSize: 16, fontFamily: FONT, color: INK,
    rich: {
        n: {fontSize: 16, fontFamily: FONT, color: INK},
        i: {fontSize: 16, fontFamily: FONT, color: INK, fontStyle: 'italic'}
    }
};
var yRight = baseAxis(yRange, 'right', null);

function tickLine(x1, y1, x2, y2) {
    return {type: 'line', shape: {x1: x1, y1: y1, x2: x2, y2: y2}, style: {stroke: tickColor, lineWidth: 1}};
}

var option = {
    animation: false,
    grid: {left: 66, right: 12, top: 20, bottom: 49, outerBoundsMode: 'none', containLabel: false},
    xAxis: [xBottom, xTop],
    yAxis: [yLeft, yRight],
    graphic: [
        {
            type: 'text', x: 177, y: 357,
            style: {
                text: '{i|M}{d|D}{n|  [GeV]}',
                align: 'left', verticalAlign: 'middle',
                rich: {
                    i: {fontSize: 15, fontFamily: FONT, fill: INK, color: INK, fontStyle: 'italic', lineHeight: 16},
                    d: {fontSize: 11, fontFamily: FONT, fill: INK, color: INK, fontStyle: 'italic', lineHeight: 10, verticalAlign: 'bottom'},
                    n: {fontSize: 15, fontFamily: FONT, fill: INK, color: INK, lineHeight: 16}
                }
            }
        },
        {type: 'line', shape: {x1: 177, y1: 347, x2: 196, y2: 347}, style: {stroke: INK, lineWidth: 1}}
    ],
    series: [
        {
            type: 'scatter', data: grayPts, symbolSize: 2.6, silent: true,
            itemStyle: {color: '#b3b3b3'}
        },
        {
            type: 'scatter', data: greenPts, symbolSize: 2.6, silent: true,
            itemStyle: {color: '#087f08'},
            markLine: {
                silent: true, symbol: 'none', animation: false,
                lineStyle: {color: '#e3221e', type: [5, 3], width: 1},
                label: {
                    show: true, formatter: 'MEG', position: 'insideStartTop',
                    color: '#e3221e', fontSize: 14, fontFamily: FONT,
                    distance: 2, padding: [0, 0, 0, 27]
                },
                data: [{yAxis: megLimit}]
            }
        },
        {
            type: 'custom', silent: true, z: 5,
            data: minorList(xRange).map(function (v) { return [v, yRange[0]]; }),
            renderItem: function (params, api) {
                var v = api.value(0);
                var b = api.coord([v, yRange[0]]);
                var t = api.coord([v, yRange[1]]);
                return {type: 'group', children: [
                    tickLine(b[0], b[1], b[0], b[1] - 3),
                    tickLine(t[0], t[1], t[0], t[1] + 3)
                ]};
            }
        },
        {
            type: 'custom', silent: true, z: 5,
            data: minorList(yRange).map(function (v) { return [xRange[0], v]; }),
            renderItem: function (params, api) {
                var v = api.value(1);
                var l = api.coord([xRange[0], v]);
                var r = api.coord([xRange[1], v]);
                return {type: 'group', children: [
                    tickLine(l[0], l[1], l[0] + 3, l[1]),
                    tickLine(r[0], r[1], r[0] - 3, r[1])
                ]};
            }
        }
    ]
};

var chart = echarts.init(document.getElementById('chart'));
chart.setOption(option);
</script>
</body>
</html>
